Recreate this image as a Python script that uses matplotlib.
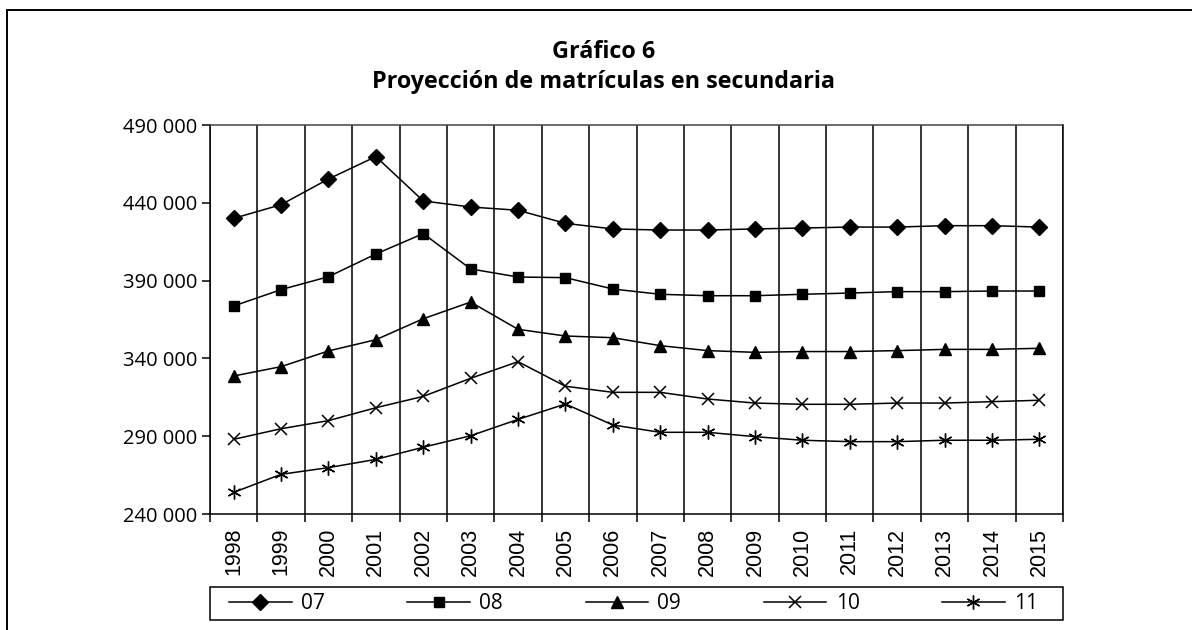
import matplotlib
matplotlib.use("Agg")
import matplotlib.pyplot as plt
import numpy as np
from matplotlib.patches import Rectangle
from matplotlib.ticker import FuncFormatter, FixedLocator

years = ["1998", "1999", "2000", "2001", "2002", "2003", "2004", "2005", "2006",
         "2007", "2008", "2009", "2010", "2011", "2012", "2013", "2014", "2015"]

s07 = [430000, 438800, 455300, 469700, 441200, 437300, 435200, 426800, 423200,
       422500, 422500, 423200, 423800, 424400, 424400, 425300, 425300, 424400]
s08 = [373700, 384200, 392500, 407100, 420200, 397500, 392300, 391900, 384600,
       381200, 380300, 380300, 381200, 382000, 382900, 382900, 383300, 383300]
s09 = [328700, 334700, 344800, 352000, 365500, 376200, 358700, 354400, 353300,
       348200, 345000, 343900, 344400, 344400, 345000, 345800, 345800, 346500]
s10 = [288000, 294800, 300000, 308300, 315600, 327200, 337900, 322100, 318200,
       318200, 313900, 311300, 310500, 310500, 311300, 311300, 312200, 313100]
s11 = [253900, 265500, 269800, 275100, 282900, 290300, 300800, 310700, 297200,
       292500, 292500, 289700, 287400, 286500, 286500, 287400, 287400, 288000]

yticks = [240000, 290000, 340000, 390000, 440000, 490000]
series_labels = ["07", "08", "09", "10", "11"]
title_line1 = "Gráfico 6"
title_line2 = "Proyección de matrículas en secundaria"

W, H = 1192, 630
fig = plt.figure(figsize=(W / 100, H / 100), dpi=100)
fig.patch.set_facecolor("white")

ax_l, ax_r, ax_t, ax_b = 210, 1063, 125, 514
axw, axh = ax_r - ax_l, ax_b - ax_t
ax = fig.add_axes([ax_l / W, 1 - ax_b / H, axw / W, axh / H])

x = np.arange(len(years))
styles = [
    dict(marker="D", markersize=8),
    dict(marker="s", markersize=7.5),
    dict(marker="^", markersize=8.5),
    dict(marker="x", markersize=8.5, markeredgewidth=1.1),
    dict(marker=(6, 2, 0), markersize=10, markeredgewidth=1.0),
]
data = [s07, s08, s09, s10, s11]
for vals, lab, st in zip(data, series_labels, styles):
    ax.plot(x, vals, color="black", linewidth=1.1, label=lab,
            markerfacecolor="black", markeredgecolor="black", **st)

ax.set_xlim(-0.5, len(years) - 0.5)
ax.set_ylim(yticks[0], yticks[-1])
ax.yaxis.set_major_locator(FixedLocator(yticks))
ax.yaxis.set_major_formatter(FuncFormatter(lambda v, p: f"{int(v):,}".replace(",", " ")))

ax.set_xticks(x)
ax.set_xticklabels(years, rotation=90, family="Liberation Sans", fontsize=15.5)
ax.xaxis.set_minor_locator(FixedLocator(np.arange(-0.5, len(years), 1.0)))
ax.tick_params(axis="x", which="major", length=0, pad=10)
ax.tick_params(axis="x", which="minor", length=6, width=1.1, direction="out")
ax.tick_params(axis="y", which="major", length=6, width=1.1, direction="out", pad=3)
for lbl in ax.get_yticklabels():
    lbl.set_family("Open Sans")
    lbl.set_fontsize(14.5)
ax.grid(True, which="minor", axis="x", color="black", linewidth=1.1)
for sp in ax.spines.values():
    sp.set_color("black")
    sp.set_linewidth(1.1)
ax.spines["top"].set_color("#444444")

# legend box (frame drawn separately), spanning the axes width
box_top, box_bot = 587, 620
y0 = -(box_bot - ax_b) / axh
bh = (box_bot - box_top) / axh
ax.add_patch(Rectangle((0, y0), 1, bh, transform=ax.transAxes, fill=False,
                       edgecolor="black", linewidth=1.1, clip_on=False))
lx0 = (229 - ax_l) / axw
lx1 = (1038 - ax_l) / axw
leg = ax.legend(loc="center left", bbox_to_anchor=(lx0, y0, lx1 - lx0, bh),
                mode="expand", ncol=5, frameon=False,
                borderaxespad=0, borderpad=0, handlelength=3.0, handletextpad=0.45,
                prop={"family": "Open Sans", "size": 15}, columnspacing=1.0)

# titles
cx = 603.5 / W
fig.text(cx, 1 - 58 / H, title_line1, ha="center", va="baseline",
         family="Open Sans", fontweight="bold", fontsize=16.8)
fig.text(cx, 1 - 88 / H, title_line2, ha="center", va="baseline",
         family="Open Sans", fontweight="bold", fontsize=16.8)

# outer border (open at right and bottom)
fig.add_artist(Rectangle((7 / W, -0.1), 1.2, 1.1 - 10 / H, transform=fig.transFigure,
                         fill=False, edgecolor="black", linewidth=1.4))

fig.savefig("out.png", dpi=100)
